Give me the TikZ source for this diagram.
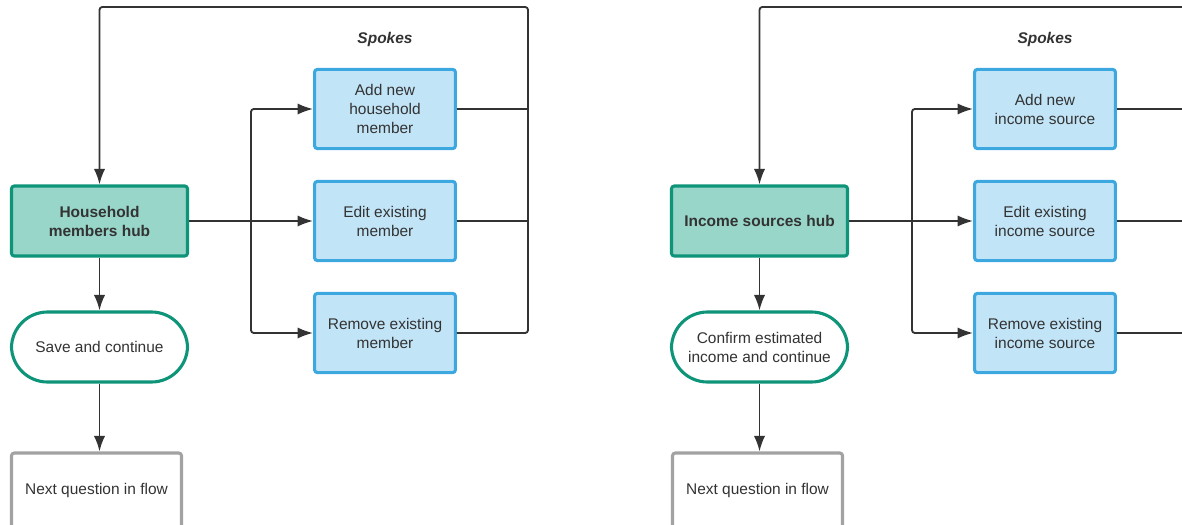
\documentclass[tikz,border=0pt]{standalone}
\usepackage{fontspec}
\setmainfont{Liberation Sans}
\usetikzlibrary{arrows.meta}
\usepackage{xcolor}
\definecolor{myteal}{HTML}{0E9479}
\definecolor{mytealfill}{HTML}{98D6C9}
\definecolor{myblue}{HTML}{3DA8DF}
\definecolor{mybluefill}{HTML}{C2E4F7}
\definecolor{mygrey}{HTML}{A2A2A2}
\definecolor{mytext}{HTML}{333333}
\tikzset{
  >=latex,
  box/.style={thick,rectangle,rounded corners=2,align=center,text=mytext,
    font=\fontsize{11}{13.5}\selectfont,inner sep=2,line width=2.2pt},
  node hub/.style={box,draw=myteal,fill=mytealfill,minimum width=4.4cm,minimum height=1.75cm,
    font=\fontsize{11}{13.5}\selectfont\bfseries},
  node spoke/.style={box,draw=myblue,fill=mybluefill,minimum width=3.52cm,minimum height=1.98cm},
  node save/.style={box,draw=myteal,fill=white,rounded corners=0.9cm,minimum width=4.4cm,minimum height=1.75cm},
  node next/.style={box,draw=mygrey,fill=white,minimum width=4.25cm,minimum height=1.875cm},
  label spokes/.style={text=mytext,font=\fontsize{11}{13.5}\selectfont\bfseries\itshape},
  connect/.style={line width=1.3pt,mytext,rounded corners=2},
  connect arrow/.style={connect,-{Latex[length=11pt,width=8pt]}}
}

\begin{document}
\begin{tikzpicture}[x=0.025cm,y=-0.025cm]
    \clip (0,0) rectangle (1182,525);

    % household members
    \node[node hub] (hhub) at (99.5,221) {Household\\members hub};
    \node[node save] (hsave) at (99.5,347) {Save and continue};
    \node[node next] (hnext) at (96.5,490.5) {Next question in flow};
    \node[label spokes] (hspokes) at (385,40) {Spokes};
    \node[node spoke] (hadd) at (385,109) {Add new\\household\\member};
    \node[node spoke] (hedit) at (385,221) {Edit existing\\member};
    \node[node spoke] (hremove) at (385,333) {Remove existing\\member};
    \coordinate (hsplit) at (251,221);
    \coordinate (hloop) at (528,7);

    \draw[connect arrow] (hhub) -- (hsave);
    \draw[connect arrow] (hsave) -- (hsave |- hnext.north);
    \draw[connect arrow] (hhub.east) -- (hedit.west);
    \draw[connect arrow] (hsplit) |- (hadd.west);
    \draw[connect arrow] (hsplit) |- (hremove.west);
    \draw[connect arrow] (hremove.east) -| (hloop) -| (hhub.north);
    \draw[connect] (hadd.east) -- (hadd.east -| hloop);
    \draw[connect] (hedit.east) -- (hedit.east -| hloop);

    % income sources
    \node[node hub] (ihub) at (759.5,221) {Income sources hub};
    \node[node save] (isave) at (759.5,347) {Confirm estimated\\income and continue};
    \node[node next] (inext) at (757.5,490.5) {Next question in flow};
    \node[label spokes] (ispokes) at (1045,40) {Spokes};
    \node[node spoke] (iadd) at (1045,109) {Add new\\income source};
    \node[node spoke] (iedit) at (1045,221) {Edit existing\\income source};
    \node[node spoke] (iremove) at (1045,333) {Remove existing\\income source};
    \coordinate (isplit) at (912,221);
    \coordinate (iloop) at (1200,7);

    \draw[connect arrow] (ihub) -- (isave);
    \draw[connect arrow] (isave) -- (isave |- inext.north);
    \draw[connect arrow] (ihub.east) -- (iedit.west);
    \draw[connect arrow] (isplit) |- (iadd.west);
    \draw[connect arrow] (isplit) |- (iremove.west);
    \draw[connect arrow] (iremove.east) -| (iloop) -| (ihub.north);
    \draw[connect] (iadd.east) -- (iadd.east -| iloop);
    \draw[connect] (iedit.east) -- (iedit.east -| iloop);
\end{tikzpicture}
\end{document}
